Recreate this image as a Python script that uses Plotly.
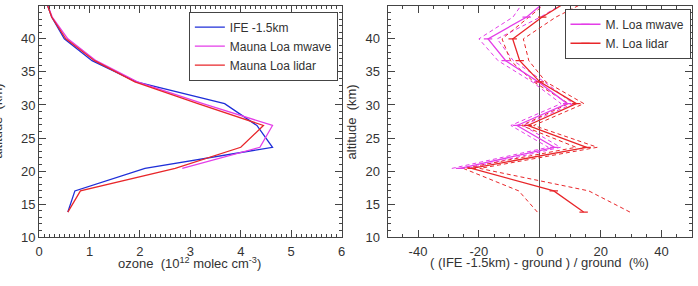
import numpy as np
import plotly.graph_objects as go

# ---------------- data ----------------
altitude_km = [13.8, 17.0, 20.4, 23.6, 26.9, 30.2, 33.5, 36.7, 40.0, 43.3, 46.5]

# left panel: ozone number density (10^12 molec cm^-3)
ozone_ife = [0.57, 0.71, 2.10, 4.63, 4.32, 3.68, 1.93, 1.05, 0.50, 0.25, 0.10]
ozone_mwave = [None, None, 2.84, 4.38, 4.63, 3.25, 1.95, 1.13, 0.57, 0.26, 0.10]
ozone_lidar = [0.57, 0.82, 2.70, 4.00, 4.45, 3.15, 1.90, 1.10, 0.53, 0.25, 0.10]

# right panel: relative difference (%) and its uncertainty (%)
diff_mwave = [None, None, -26.2, 4.8, -7.5, 9.0, -0.5, -11.2, -17.0, -4.3, 4.0]
unc_mwave = [None, None, 2.7, 2.0, 2.0, 2.0, 2.0, 2.5, 3.0, 4.5, 8.0]
diff_lidar = [14.4, 4.6, -22.4, 15.4, -4.0, 12.0, 0.0, -6.6, -8.9, 0.8, 12.0]
unc_lidar = [15.2, 11.5, 2.7, 3.5, 2.0, 2.5, 2.0, 3.0, 3.5, 4.5, 7.0]

# tick labels
left_x_ticks = [0, 1, 2, 3, 4, 5, 6]
left_x_labels = ["0", "1", "2", "3", "4", "5", "6"]
right_x_ticks = [-40, -20, 0, 20, 40]
right_x_labels = ["-40", "-20", "0", "20", "40"]
y_ticks = [10, 15, 20, 25, 30, 35, 40, 45]
y_labels = ["10", "15", "20", "25", "30", "35", "40", "45"]

# ---------------- styles ----------------
FONT = "Liberation Sans, Arial, Helvetica, sans-serif"
BLUE = "#1f2fd8"
MAGENTA = "#e43de8"
RED = "#e8262a"
AX = "#444444"
TXT = "#333333"
W, H = 698, 286

fig = go.Figure()

# left panel
fig.add_trace(go.Scatter(x=ozone_ife, y=altitude_km, mode="lines", name="IFE -1.5km",
                         line=dict(color=BLUE, width=1.3), xaxis="x", yaxis="y", legend="legend"))
fig.add_trace(go.Scatter(x=ozone_mwave, y=altitude_km, mode="lines", name="Mauna Loa mwave",
                         line=dict(color=MAGENTA, width=1.3), xaxis="x", yaxis="y", legend="legend"))
fig.add_trace(go.Scatter(x=ozone_lidar, y=altitude_km, mode="lines", name="Mauna Loa lidar",
                         line=dict(color=RED, width=1.3), xaxis="x", yaxis="y", legend="legend"))

# right panel
dm = np.array(diff_mwave, dtype=float)
um = np.array(unc_mwave, dtype=float)
dl = np.array(diff_lidar, dtype=float)
ul = np.array(unc_lidar, dtype=float)

for arr, col in [(dm - um, MAGENTA), (dm + um, MAGENTA), (dl - ul, RED), (dl + ul, RED)]:
    fig.add_trace(go.Scatter(x=arr, y=altitude_km, mode="lines", showlegend=False,
                             line=dict(color=col, width=1, dash="4px,3px"),
                             xaxis="x2", yaxis="y2", hoverinfo="skip"))

fig.add_trace(go.Scatter(x=dm, y=altitude_km, mode="lines+markers", name="M. Loa mwave",
                         line=dict(color=MAGENTA, width=1.3),
                         marker=dict(symbol="line-ew", size=6, line=dict(color=MAGENTA, width=1.2)),
                         xaxis="x2", yaxis="y2", legend="legend2"))
fig.add_trace(go.Scatter(x=dl, y=altitude_km, mode="lines+markers", name="M. Loa lidar",
                         line=dict(color=RED, width=1.3),
                         marker=dict(symbol="line-ew", size=6, line=dict(color=RED, width=1.2)),
                         xaxis="x2", yaxis="y2", legend="legend2"))


def px_x(p):
    return p / W


def px_y(p):
    return 1 - p / H


axis_common = dict(showline=True, linecolor=AX, linewidth=1, mirror="ticks", ticks="inside",
                   tickcolor=AX, ticklen=7, tickwidth=1, showgrid=False,
                   tickfont=dict(family=FONT, size=13, color=TXT))

fig.update_layout(
    width=W, height=H, margin=dict(l=0, r=0, t=0, b=0),
    paper_bgcolor="white", plot_bgcolor="white",
    font=dict(family=FONT, color=TXT),
    xaxis=dict(domain=[px_x(35.5), px_x(341.5)], range=[0, 6], anchor="y",
               tickmode="array", tickvals=left_x_ticks, ticktext=left_x_labels,
               ticklabelstandoff=2, zeroline=False,
               minor=dict(dtick=0.1, tick0=0, ticks="inside", ticklen=3, tickcolor=AX), **axis_common),
    yaxis=dict(domain=[px_y(244), px_y(6)], range=[10, 45], anchor="x",
               tickmode="array", tickvals=y_ticks, ticktext=y_labels, zeroline=False,
               minor=dict(dtick=1, tick0=0, ticks="inside", ticklen=3, tickcolor=AX), **axis_common),
    xaxis2=dict(domain=[px_x(388), px_x(696)], range=[-50, 50], anchor="y2",
                tickmode="array", tickvals=right_x_ticks, ticktext=right_x_labels,
                ticklabelstandoff=2,
                zeroline=True, zerolinecolor="#555555", zerolinewidth=1,
                minor=dict(dtick=5, tick0=0, ticks="inside", ticklen=3, tickcolor=AX), **axis_common),
    yaxis2=dict(domain=[px_y(244), px_y(6)], range=[10, 45], anchor="x2",
                tickmode="array", tickvals=y_ticks, ticktext=y_labels, zeroline=False,
                ticklabelstandoff=4,
                minor=dict(dtick=1, tick0=0, ticks="inside", ticklen=3, tickcolor=AX), **axis_common),
    legend=dict(x=px_x(187), y=px_y(12), xanchor="left", yanchor="top",
                bordercolor=AX, borderwidth=1, bgcolor="white",
                font=dict(family=FONT, size=12, color=TXT)),
    legend2=dict(x=px_x(567), y=px_y(9), xanchor="left", yanchor="top",
                 bordercolor=AX, borderwidth=1, bgcolor="white",
                 font=dict(family=FONT, size=12, color=TXT)),
)

title_font = dict(family=FONT, size=13, color=TXT)
fig.add_annotation(text="ozone&nbsp; (10<sup>12</sup> molec cm<sup>-3</sup>)",
                   xref="paper", yref="paper", x=px_x(188), y=px_y(271),
                   xanchor="center", yanchor="middle", showarrow=False, font=title_font)
fig.add_annotation(text="( (IFE -1.5km) - ground ) / ground&nbsp; (%)",
                   xref="paper", yref="paper", x=px_x(542), y=px_y(270.5),
                   xanchor="center", yanchor="middle", showarrow=False, font=title_font)
fig.add_annotation(text="altitude&nbsp; (km)", textangle=-90,
                   xref="paper", yref="paper", x=px_x(-7), y=px_y(125),
                   xanchor="center", yanchor="middle", showarrow=False, font=title_font)
fig.add_annotation(text="altitude&nbsp; (km)", textangle=-90,
                   xref="paper", yref="paper", x=px_x(352), y=px_y(125),
                   xanchor="center", yanchor="middle", showarrow=False, font=title_font)

fig.write_html("out.html")
